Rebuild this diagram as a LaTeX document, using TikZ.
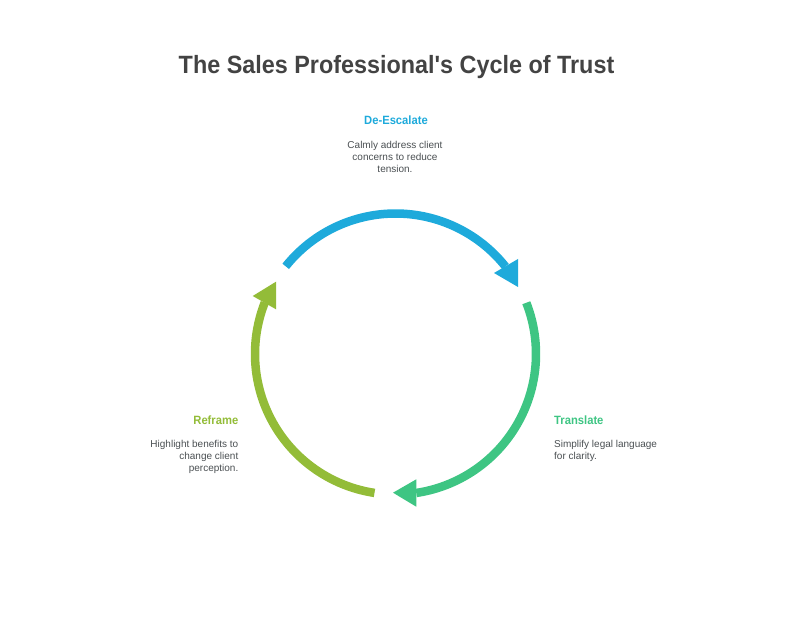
\documentclass[tikz,border=0pt]{standalone}
\usepackage{fontspec}
\setmainfont{Liberation Sans}
\newfontfamily\narrowfont[FakeStretch=0.935]{Liberation Sans}
\definecolor{cycblue}{HTML}{1EAADB}
\definecolor{cycgreen}{HTML}{3EC583}
\definecolor{cyclime}{HTML}{93BC38}
\definecolor{titlegray}{HTML}{434343}
\definecolor{descgray}{HTML}{4A4F52}
\tikzset{
  ringarc/.style={line width=8.5pt},
  heading/.style={inner sep=0pt, font=\narrowfont\fontsize{12}{14}\selectfont\bfseries},
  desc/.style={inner sep=0pt, text=descgray, font=\fontsize{10}{12}\selectfont},
}

\begin{document}
\begin{tikzpicture}[x=1pt, y=1pt]
  \useasboundingbox (0,0) rectangle (792,637);
  \coordinate (centre) at (395.5,283);

  \node[inner sep=0pt, text=titlegray, font=\narrowfont\fontsize{25}{30}\selectfont\bfseries] (title) at (396.5,569.5) {The Sales Professional\symbol{39}s Cycle of Trust};

  % arcs
  \draw[ringarc, cycblue] (centre) ++(141.4:140.5) arc[start angle=141.4, end angle=38.5, radius=140.5];
  \draw[ringarc, cycgreen] (centre) ++(21.4:140.5) arc[start angle=21.4, end angle=-81.5, radius=140.5];
  \draw[ringarc, cyclime] (centre) ++(261.4:140.5) arc[start angle=261.4, end angle=158.5, radius=140.5];

  % arrow heads
  \fill[cycblue] (518,350) -- (518,378) -- (494,364) -- cycle;
  \fill[cycgreen] (393,144.3) -- (416.3,157.7) -- (416.3,130.3) -- cycle;
  \fill[cyclime] (276,355.3) -- (276,327.7) -- (252.7,341) -- cycle;

  % labels
  \node[heading, text=cycblue] (deescalate) at (396,517) {De-Escalate};
  \node[desc, align=center] (deescalatetext) at (395,480) {Calmly address client\\concerns to reduce\\tension.};
  \node[heading, text=cycgreen, anchor=west] (translate) at (554,217) {Translate};
  \node[desc, align=left, anchor=west] (translatetext) at (554,186) {Simplify legal language\\for clarity.};
  \node[heading, text=cyclime, anchor=east] (reframe) at (238.5,217) {Reframe};
  \node[desc, align=right, anchor=east] (reframetext) at (238.5,180) {Highlight benefits to\\change client\\perception.};
\end{tikzpicture}
\end{document}
